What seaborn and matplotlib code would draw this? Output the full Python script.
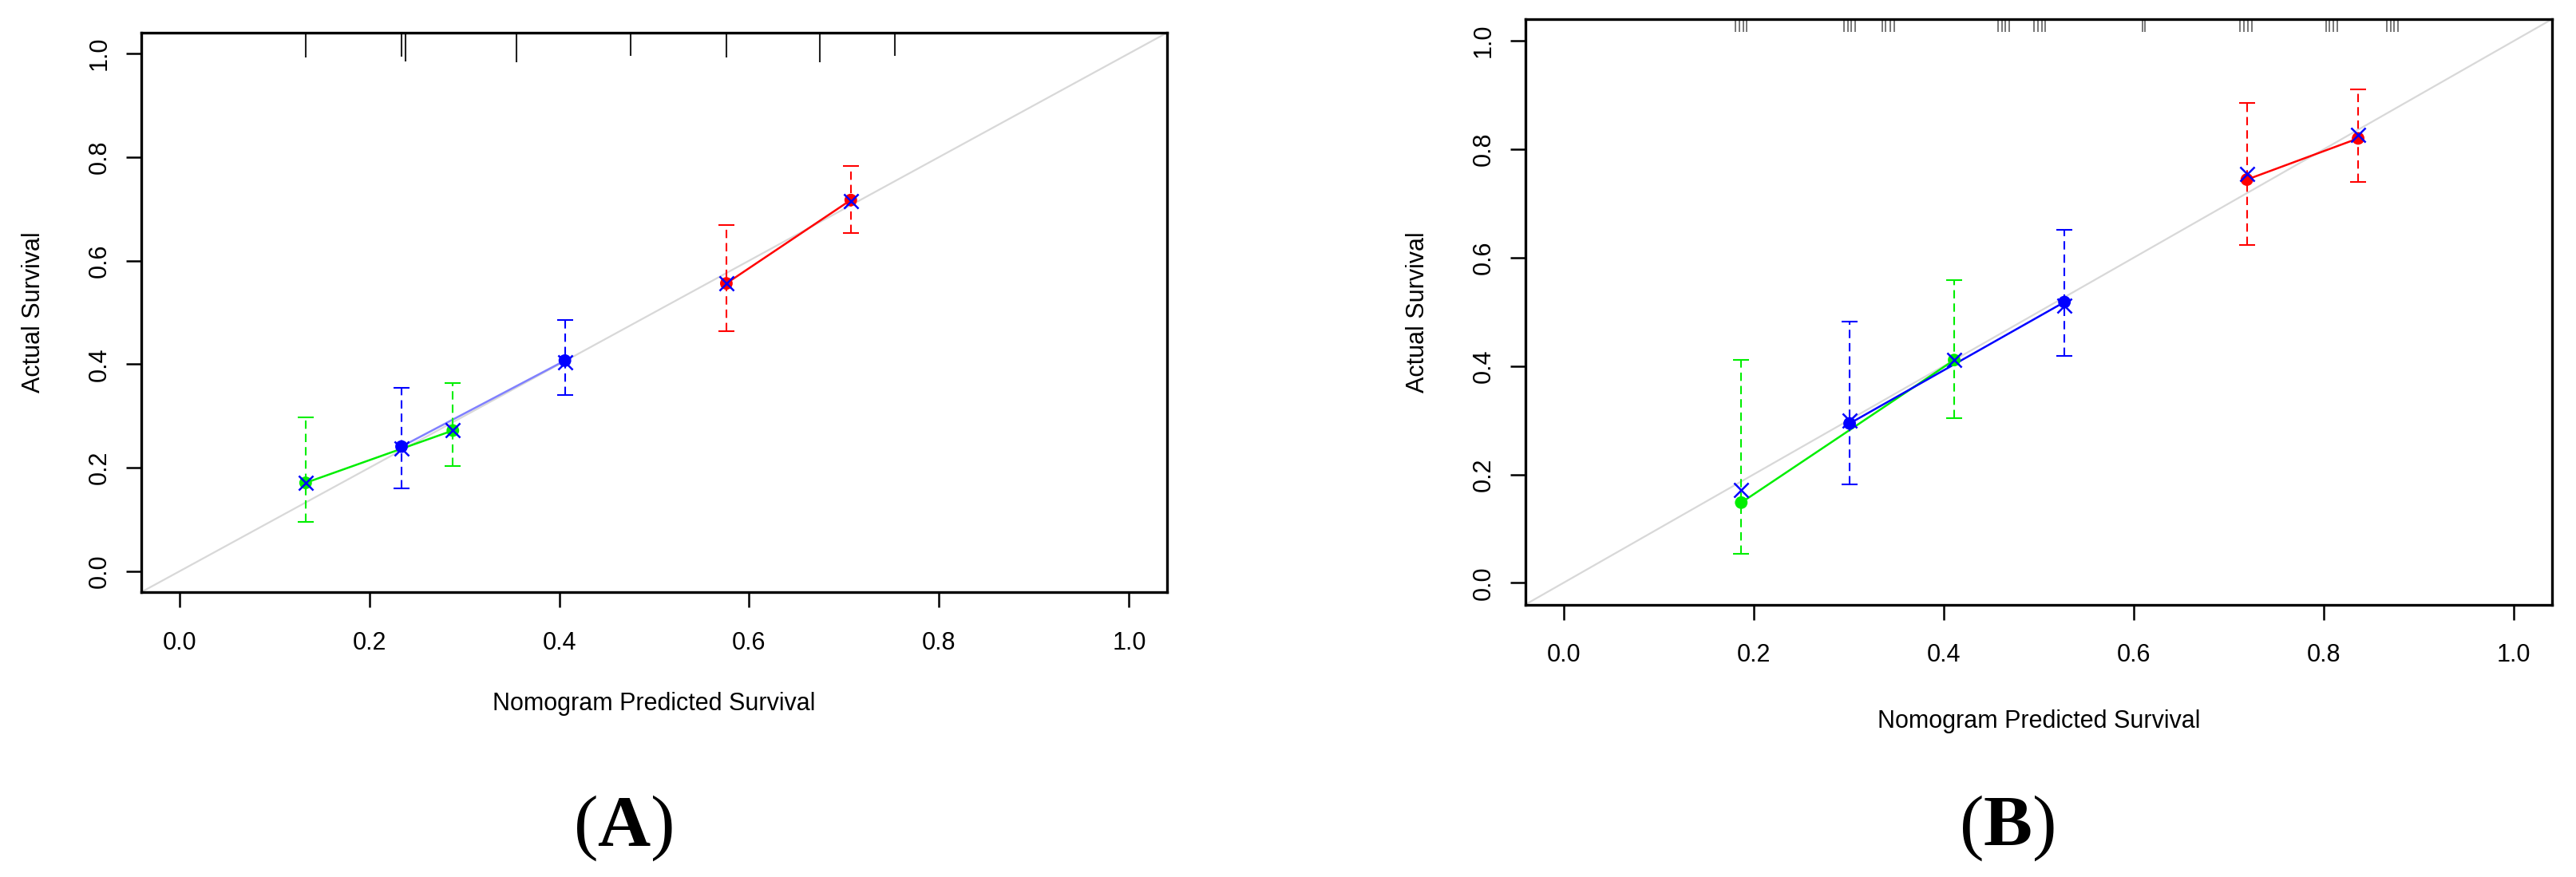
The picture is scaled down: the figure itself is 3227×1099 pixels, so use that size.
import numpy as np
import pandas as pd
import matplotlib
matplotlib.use("Agg")
import matplotlib.pyplot as plt
from matplotlib.ticker import FormatStrFormatter
import seaborn as sns

# ==========================================
# 1. DATA
# ==========================================
# panel A : three groups, two points each
a_grp = ["g1", "g1", "g2", "g2", "g3", "g3"]
a_pred = [0.133, 0.288, 0.234, 0.406, 0.576, 0.707]
a_obs = [0.171, 0.272, 0.241, 0.407, 0.556, 0.717]
a_corr = [0.171, 0.272, 0.238, 0.404, 0.556, 0.715]
a_lo = [0.096, 0.203, 0.160, 0.340, 0.464, 0.654]
a_hi = [0.298, 0.364, 0.354, 0.486, 0.669, 0.782]

# rug of predictions along the top (position, height)
a_rug_x = [0.133, 0.234, 0.238, 0.355, 0.475, 0.576, 0.674, 0.753]
a_rug_h = [0.048, 0.046, 0.056, 0.057, 0.044, 0.048, 0.057, 0.045]

# panel B
b_grp = ["g1", "g1", "g2", "g2", "g3", "g3"]
b_pred = [0.187, 0.411, 0.301, 0.527, 0.719, 0.836]
b_obs = [0.148, 0.411, 0.294, 0.518, 0.744, 0.820]
b_corr = [0.172, 0.411, 0.300, 0.511, 0.755, 0.826]
b_lo = [0.053, 0.304, 0.182, 0.418, 0.624, 0.739]
b_hi = [0.411, 0.558, 0.482, 0.651, 0.886, 0.910]

b_rug_x = [0.181, 0.185, 0.189, 0.193,
           0.295, 0.299, 0.303, 0.307,
           0.335, 0.339, 0.344, 0.348,
           0.457, 0.461, 0.465, 0.469,
           0.495, 0.499, 0.503, 0.507,
           0.609, 0.612,
           0.712, 0.716, 0.720, 0.724,
           0.802, 0.806, 0.810, 0.814,
           0.866, 0.870, 0.874, 0.878]
b_rug_h = [0.024] * len(b_rug_x)

PAL = {"g1": "#00ee00", "g2": "#0000ff", "g3": "#ff0000"}

# ==========================================
# 2. STYLE
# ==========================================
sns.set_theme(style="white")
plt.rcParams["font.family"] = ["Liberation Sans", "DejaVu Sans"]
plt.rcParams["text.color"] = "black"
plt.rcParams["axes.labelcolor"] = "black"
plt.rcParams["xtick.color"] = "black"
plt.rcParams["ytick.color"] = "black"
plt.rcParams["mathtext.fontset"] = "custom"
plt.rcParams["mathtext.rm"] = "Liberation Serif"
plt.rcParams["mathtext.bf"] = "Liberation Serif:bold"

LIM = (-0.04, 1.04)


def draw_panel(ax, df, rug_x, rug_h, rug_col, rug_lw, line_pal):
    ax.set_xlim(LIM)
    ax.set_ylim(LIM)
    # reference diagonal
    ax.plot(LIM, LIM, color="#d8d8d8", lw=1.6, zorder=1)
    # rug along top
    ax.vlines(rug_x, [LIM[1] - h for h in rug_h], LIM[1], colors=rug_col,
              lw=rug_lw, zorder=2)

    sns.lineplot(data=df, x="pred", y="obs", hue="grp", palette=line_pal,
                 estimator=None, sort=False, legend=False, lw=1.8, ax=ax, zorder=3)

    for g, sub in df.groupby("grp"):
        eb = ax.errorbar(sub["pred"], sub["obs"],
                         yerr=[sub["obs"] - sub["lo"], sub["hi"] - sub["obs"]],
                         fmt="none", ecolor=PAL[g], elinewidth=1.5,
                         capsize=7, capthick=1.5, zorder=4)
        eb[-1][0].set_linestyle((0, (5, 3)))

    sns.scatterplot(data=df, x="pred", y="obs", hue="grp", palette=PAL, s=130,
                    edgecolor="none", legend=False, ax=ax, zorder=5)
    sns.scatterplot(data=df, x="pred", y="corr", color="#0000ff", marker="x",
                    s=170, linewidth=1.8, legend=False, ax=ax, zorder=6)

    ticks = [0.0, 0.2, 0.4, 0.6, 0.8, 1.0]
    ax.set_xticks(ticks)
    ax.set_yticks(ticks)
    ax.xaxis.set_major_formatter(FormatStrFormatter("%.1f"))
    ax.yaxis.set_major_formatter(FormatStrFormatter("%.1f"))
    ax.tick_params(axis="both", direction="out", length=14, width=1.8,
                   labelsize=22, color="black", labelcolor="black",
                   bottom=True, left=True)
    ax.tick_params(axis="x", pad=21)
    ax.tick_params(axis="y", pad=13, labelrotation=90)
    plt.setp(ax.get_yticklabels(), va="center")

    for sp in ax.spines.values():
        sp.set_visible(True)
        sp.set_color("black")
        sp.set_linewidth(2.4)

    ax.set_xlabel("Nomogram Predicted Survival", fontsize=22, color="black")
    ax.set_ylabel("Actual Survival", fontsize=22, color="black")
    ax.xaxis.set_label_coords(0.5, -0.20)
    ax.xaxis.label.set_va("center")
    ax.yaxis.set_label_coords(-0.105, 0.5)
    ax.yaxis.label.set_va("center")


df_a = pd.DataFrame({"grp": a_grp, "pred": a_pred, "obs": a_obs,
                     "corr": a_corr, "lo": a_lo, "hi": a_hi})
df_b = pd.DataFrame({"grp": b_grp, "pred": b_pred, "obs": b_obs,
                     "corr": b_corr, "lo": b_lo, "hi": b_hi})

# ==========================================
# 3. FIGURE
# ==========================================
W, H = 3227, 1099
fig = plt.figure(figsize=(W / 100, H / 100), dpi=100)

ax_a = fig.add_axes([177 / W, 1 - 742 / H, 1285 / W, 701 / H])
ax_b = fig.add_axes([1911 / W, 1 - 757.5 / H, 1286 / W, 733.5 / H])

draw_panel(ax_a, df_a, a_rug_x, a_rug_h, "#222222", 1.5,
           {"g1": "#00ee00", "g2": "#8080ff", "g3": "#ff0000"})
draw_panel(ax_b, df_b, b_rug_x, b_rug_h, "#777777", 1.4, PAL)

fig.text(781 / W, 1 - 1038 / H, r"$(\mathbf{A})$", ha="center", va="center",
         fontsize=66, color="black")
fig.text(2514 / W, 1 - 1038 / H, r"$(\mathbf{B})$", ha="center", va="center",
         fontsize=66, color="black")

fig.savefig("out.png", dpi=100)
